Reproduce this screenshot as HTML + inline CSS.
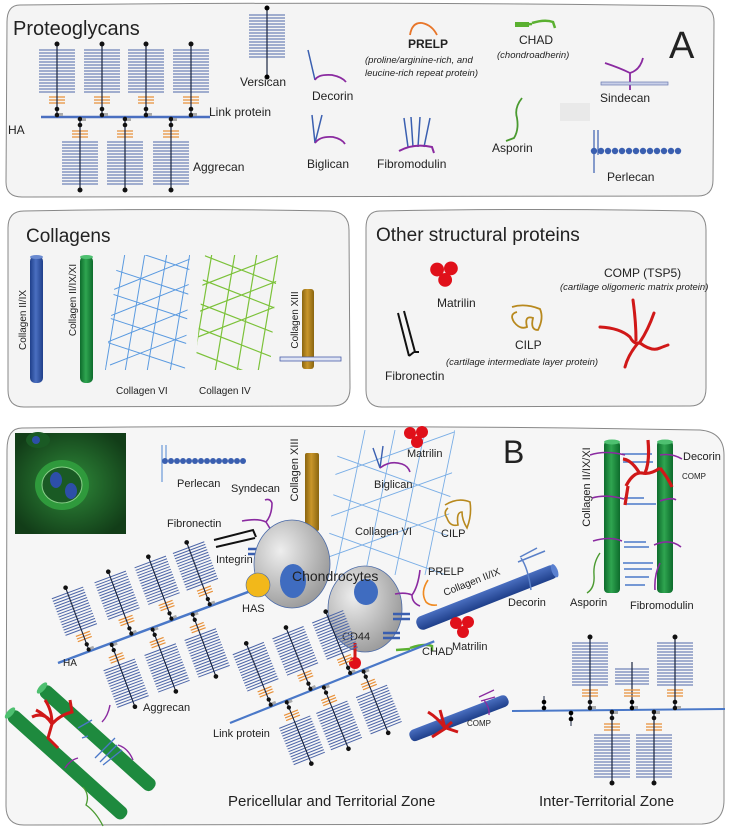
<!DOCTYPE html>
<html><head><meta charset="utf-8"><style>
html,body{margin:0;padding:0;background:#fff}
svg{display:block}
text{font-family:"Liberation Sans",sans-serif;fill:#222}
.i{font-style:italic}
</style></head><body>
<svg width="730" height="829" viewBox="0 0 730 829" xmlns="http://www.w3.org/2000/svg">
<defs>
<linearGradient id="gb" x1="0" x2="1"><stop offset="0" stop-color="#1f3f8a"/><stop offset=".45" stop-color="#4a6fc0"/><stop offset="1" stop-color="#1f3f8a"/></linearGradient>
<linearGradient id="gg" x1="0" x2="1"><stop offset="0" stop-color="#0d6b2c"/><stop offset=".45" stop-color="#2fa550"/><stop offset="1" stop-color="#0d6b2c"/></linearGradient>
<linearGradient id="gy" x1="0" x2="1"><stop offset="0" stop-color="#8a6510"/><stop offset=".45" stop-color="#c9962a"/><stop offset="1" stop-color="#8a6510"/></linearGradient>
<linearGradient id="gbv" x1="0" y1="0" x2="0" y2="1"><stop offset="0" stop-color="#4a6fc0"/><stop offset="1" stop-color="#1f3f8a"/></linearGradient>
<radialGradient id="cell" cx=".35" cy=".35" r=".8"><stop offset="0" stop-color="#eee"/><stop offset="1" stop-color="#8e8e8e"/></radialGradient>
<radialGradient id="ph" cx=".5" cy=".5" r=".6"><stop offset="0" stop-color="#2f8a3a"/><stop offset="1" stop-color="#123d18"/></radialGradient>
<g id="m">
<path d="M-18 -67h36M-18 -64h36M-18 -61h36M-18 -58h36M-18 -55h36M-18 -52h36M-18 -49h36M-18 -46h36M-18 -43h36M-18 -40h36M-18 -37h36M-18 -34h36M-18 -31h36M-18 -28h36M-18 -25h36" stroke="#4d66a8" stroke-width="1.1"/>
<path d="M-8 -20h16M-8 -17h16M-8 -14h16" stroke="#e8913a" stroke-width="1.3"/>
<line x1="0" y1="0" x2="0" y2="-73" stroke="#1a2540" stroke-width="1.2"/>
<circle cx="0" cy="-73" r="2.5" fill="#111"/><circle cx="0" cy="-8" r="2.3" fill="#111"/><circle cx="0" cy="-2" r="2.3" fill="#111"/>
<rect x="2" y="-4" width="4" height="3" fill="#aaa"/>
</g>
<g id="pg">
<path d="M-18 -67h36M-18 -64h36M-18 -61h36M-18 -58h36M-18 -55h36M-18 -52h36M-18 -49h36M-18 -46h36M-18 -43h36M-18 -40h36M-18 -37h36M-18 -34h36M-18 -31h36M-18 -28h36M-18 -25h36" stroke="#4d66a8" stroke-width="1.1"/>
</g>
<g id="mat"><circle cx="-6" cy="-3" r="6" fill="#e0101a"/><circle cx="6" cy="-4" r="6" fill="#e0101a"/><circle cx="1" cy="6" r="6" fill="#e0101a"/></g>
<clipPath id="c6"><polygon points="118,255 190,255 185,370 105,370"/></clipPath>
<clipPath id="c4"><polygon points="205,255 278,255 270,370 195,370"/></clipPath>
<clipPath id="cb6"><polygon points="340,430 455,430 445,575 325,575"/></clipPath>
</defs>

<!-- Panel A -->
<path d="M20 5 Q360 1 700 6 Q714 7 714 22 L713 180 Q713 196 698 196 L22 197 Q6 197 6 182 L7 22 Q7 5 20 5Z" fill="#f4f4f4" stroke="#888" stroke-width="1"/>
<text x="13" y="35" font-size="20">Proteoglycans</text>
<line x1="41" y1="117" x2="210" y2="117" stroke="#4a6fc0" stroke-width="2.5"/>
<use href="#m" transform="translate(57,117)"/><use href="#m" transform="translate(102,117)"/><use href="#m" transform="translate(146,117)"/><use href="#m" transform="translate(191,117)"/>
<use href="#m" transform="translate(80,117) scale(1,-1)"/><use href="#m" transform="translate(125,117) scale(1,-1)"/><use href="#m" transform="translate(171,117) scale(1,-1)"/>
<text x="209" y="116" font-size="12">Link protein</text>
<text x="8" y="134" font-size="12">HA</text>
<text x="193" y="171" font-size="12">Aggrecan</text>
<use href="#pg" transform="translate(267,82)"/>
<line x1="267" y1="8" x2="267" y2="78" stroke="#1a2540" stroke-width="1.2"/><circle cx="267" cy="8" r="2.5"/><circle cx="267" cy="77" r="2.5"/>
<text x="240" y="86" font-size="12">Versican</text>
<path d="M308 50 L315 80" stroke="#3a5fb0" stroke-width="1.5" fill="none"/><path d="M315 80 Q318 74 332 75 Q342 77 346 82" stroke="#8a2aa0" stroke-width="1.8" fill="none"/>
<text x="312" y="100" font-size="12">Decorin</text>
<path d="M312 115 L315 143 L322 115" stroke="#3a5fb0" stroke-width="1.5" fill="none"/><path d="M315 143 Q320 136 333 137 Q342 139 345 144" stroke="#8a2aa0" stroke-width="1.8" fill="none"/>
<text x="307" y="168" font-size="12">Biglican</text>
<path d="M404 118 L408 147 M411 117 L413 147 M420 117 L418 147 M430 118 L424 147" stroke="#3a5fb0" stroke-width="1.5"/>
<path d="M399 151 Q414 143 432 147 L434 153" stroke="#8a2aa0" stroke-width="2" fill="none"/>
<text x="377" y="168" font-size="12">Fibromodulin</text>
<path d="M410 35 Q412 22 422 23 Q432 25 437 35" stroke="#e8762a" stroke-width="1.8" fill="none"/>
<text x="408" y="48" font-size="12" font-weight="bold" fill="#333">PRELP</text>
<text x="365" y="63" font-size="9.5" class="i">(proline/arginine-rich, and</text>
<text x="365" y="76" font-size="9.5" class="i">leucine-rich repeat protein)</text>
<path d="M515 25 L532 24 M532 23 Q545 19 553 22 L555 28" stroke="#5ab030" stroke-width="2.5" fill="none"/><rect x="515" y="22" width="14" height="5" fill="#5ab030"/>
<text x="519" y="44" font-size="12">CHAD</text>
<text x="497" y="58" font-size="9.5" class="i">(chondroadherin)</text>
<text x="669" y="58" font-size="38">A</text>
<path d="M605 63 Q620 68 630 73 Q640 70 643 58 M630 73 L630 90" stroke="#8a2aa0" stroke-width="1.8" fill="none"/>
<rect x="601" y="82" width="67" height="3" fill="#c8cfe8" stroke="#6a7ab0" stroke-width=".7"/>
<text x="600" y="102" font-size="12">Sindecan</text>
<path d="M522 98 Q514 108 517 118 Q519 130 514 138 L506 141" stroke="#4a9a30" stroke-width="1.8" fill="none"/>
<text x="492" y="152" font-size="12">Asporin</text>
<rect x="560" y="103" width="30" height="18" fill="#ddd" opacity=".5"/>
<path d="M594 130 V173 M598 130 V155" stroke="#3a5fb0" stroke-width="1.2"/>
<g fill="#3a5fb0"><circle cx="594" cy="151" r="3.2"/><circle cx="601" cy="151" r="3.2"/><circle cx="608" cy="151" r="3.2"/><circle cx="615" cy="151" r="3.2"/><circle cx="622" cy="151" r="3.2"/><circle cx="629" cy="151" r="3.2"/><circle cx="636" cy="151" r="3.2"/><circle cx="643" cy="151" r="3.2"/><circle cx="650" cy="151" r="3.2"/><circle cx="657" cy="151" r="3.2"/><circle cx="664" cy="151" r="3.2"/><circle cx="671" cy="151" r="3.2"/><circle cx="678" cy="151" r="3.2"/></g>
<text x="607" y="181" font-size="12">Perlecan</text>

<!-- Collagens -->
<path d="M24 211 Q180 208 330 211 Q349 212 349 230 L350 388 Q350 406 332 406 L24 407 Q8 407 8 390 L8 228 Q8 211 24 211Z" fill="#f4f4f4" stroke="#888"/>
<text x="26" y="242" font-size="19">Collagens</text>
<rect x="30" y="256" width="13" height="127" rx="5" fill="url(#gb)"/><ellipse cx="36.5" cy="257" rx="6.5" ry="2" fill="#6a8ad0"/>
<rect x="80" y="256" width="13" height="127" rx="5" fill="url(#gg)"/><ellipse cx="86.5" cy="257" rx="6.5" ry="2" fill="#4ec070"/>
<text transform="translate(26,320) rotate(-90)" font-size="10" text-anchor="middle">Collagen II/IX</text>
<text transform="translate(76,300) rotate(-90)" font-size="10" text-anchor="middle">Collagen II/IX/XI</text>
<g clip-path="url(#c6)" stroke="#5a9ae0" stroke-width="1"><path d="M145 253 L125 372 M167 253 L147 372 M190 253 L170 372 M125 253 L105 372 M100 265 L200 298 M100 290 L200 323 M100 315 L200 348 M100 340 L200 373 M100 240 L200 273 M110 365 L200 330 M100 345 L200 305 M100 320 L200 280 M100 295 L200 255"/></g>
<text x="116" y="394" font-size="10">Collagen VI</text>
<g clip-path="url(#c4)" stroke="#7cc23a" stroke-width="1.2"><path d="M235 253 L215 372 M257 253 L237 372 M278 253 L258 372 M212 253 L192 372 M190 250 L280 285 M190 275 L280 310 M190 300 L280 335 M190 325 L280 360 M190 350 L280 385 M190 340 L280 305 M190 315 L280 280 M190 290 L280 255"/></g>
<text x="199" y="394" font-size="10">Collagen IV</text>
<rect x="302" y="289" width="12" height="80" rx="3" fill="url(#gy)"/>
<rect x="280" y="357" width="61" height="4" fill="#dfe4f4" stroke="#4a5fa8" stroke-width=".8"/>
<text transform="translate(298,320) rotate(-90)" font-size="10" text-anchor="middle">Collagen XIII</text>

<!-- Other structural -->
<path d="M380 211 Q540 208 690 211 Q706 212 706 230 L706 388 Q706 406 690 406 L382 407 Q366 407 366 390 L366 228 Q366 211 380 211Z" fill="#f4f4f4" stroke="#888"/>
<text x="376" y="241" font-size="19">Other structural proteins</text>
<use href="#mat" transform="translate(444,273) scale(1.15)"/>
<text x="437" y="307" font-size="12">Matrilin</text>
<path d="M398 313 L409 356 M404 311 L415 352 L419 352 M409 356 L414 352" stroke="#111" stroke-width="2" fill="none"/>
<text x="385" y="380" font-size="12">Fibronectin</text>
<path d="M512 307 Q525 303 540 309 Q544 318 538 330 Q530 330 533 318 Q524 315 527 327 Q520 330 514 322 Q509 314 517 312" stroke="#b8891e" stroke-width="1.8" fill="none"/>
<text x="515" y="349" font-size="12">CILP</text>
<text x="446" y="365" font-size="9.5" class="i">(cartilage intermediate layer protein)</text>
<text x="604" y="277" font-size="12">COMP (TSP5)</text>
<text x="560" y="290" font-size="9.5" class="i">(cartilage oligomeric matrix protein)</text>
<path d="M600 327 Q620 328 630 337 Q634 345 640 343 M636 340 Q636 322 633 300 M640 342 Q648 330 654 313 M638 343 Q628 355 625 367 M640 343 Q652 352 660 348 Q665 346 668 345" stroke="#d01818" stroke-width="3" fill="none" stroke-linecap="round"/>

<!-- Panel B -->
<path d="M22 428 Q360 424 700 430 Q724 432 724 455 L724 800 Q724 823 702 824 L24 825 Q6 825 6 806 L7 450 Q7 428 22 428Z" fill="#f6f6f6" stroke="#888"/>
<rect x="15" y="433" width="111" height="101" fill="url(#ph)"/>
<ellipse cx="62" cy="485" rx="27" ry="25" fill="#2f9a3c"/><ellipse cx="62" cy="485" rx="20" ry="18" fill="#1a5a24" stroke="#8ad08a" stroke-width="1"/>
<ellipse cx="56" cy="480" rx="6" ry="8" fill="#2d4fa8"/><ellipse cx="71" cy="491" rx="6" ry="8" fill="#2d4fa8"/>
<ellipse cx="38" cy="440" rx="12" ry="8" fill="#1a5a24"/><ellipse cx="36" cy="440" rx="4" ry="4" fill="#2d4fa8"/>
<text x="503" y="463" font-size="32">B</text>
<path d="M162 445 V482 M166 445 V462" stroke="#6a9ad8" stroke-width="1.2"/>
<g fill="#3a5fb0"><circle cx="165" cy="461" r="3"/><circle cx="171" cy="461" r="3"/><circle cx="177" cy="461" r="3"/><circle cx="183" cy="461" r="3"/><circle cx="189" cy="461" r="3"/><circle cx="195" cy="461" r="3"/><circle cx="201" cy="461" r="3"/><circle cx="207" cy="461" r="3"/><circle cx="213" cy="461" r="3"/><circle cx="219" cy="461" r="3"/><circle cx="225" cy="461" r="3"/><circle cx="231" cy="461" r="3"/><circle cx="237" cy="461" r="3"/><circle cx="243" cy="461" r="3"/></g>
<text x="177" y="487" font-size="11">Perlecan</text>
<text x="231" y="492" font-size="11">Syndecan</text>
<path d="M242 521 Q258 518 266 522 Q272 515 272 503 Q270 498 265 500 M266 522 L274 535" stroke="#8a2aa0" stroke-width="1.6" fill="none"/>
<rect x="305" y="453" width="14" height="78" rx="2" fill="url(#gy)"/>
<text transform="translate(298,470) rotate(-90)" font-size="11" text-anchor="middle">Collagen XIII</text>
<text x="167" y="527" font-size="11">Fibronectin</text>
<path d="M214 540 L253 530 L256 537 M216 547 L255 538" stroke="#111" stroke-width="2" fill="none"/>
<text x="216" y="563" font-size="11">Integrin</text>
<path d="M248 549 h17 M248 554 h17" stroke="#3a5fb0" stroke-width="2.5"/>
<g clip-path="url(#cb6)" stroke="#7aaee6" stroke-width=".9"><path d="M365 430 L335 575 M395 430 L365 575 M425 430 L395 575 M455 430 L425 575 M320 450 L460 500 M320 490 L460 540 M320 530 L460 580 M320 480 L460 430 M320 520 L460 470 M320 560 L460 510"/></g>
<path d="M373 448 L380 468 L383 446" stroke="#3a5fb0" stroke-width="1.4" fill="none"/><path d="M380 468 Q390 460 402 464 Q408 466 410 472" stroke="#8a2aa0" stroke-width="1.6" fill="none"/>
<use href="#mat" transform="translate(416,436)"/>
<text x="407" y="457" font-size="11">Matrilin</text>
<text x="374" y="488" font-size="11">Biglican</text>
<text x="355" y="535" font-size="11">Collagen VI</text>
<path d="M445 505 Q458 497 470 502 Q472 515 467 528 Q462 520 462 512 Q456 512 458 525 Q450 527 447 518 Q443 512 448 508" stroke="#b8891e" stroke-width="1.6" fill="none"/>
<text x="441" y="537" font-size="11">CILP</text>
<g transform="translate(58,663) rotate(-20.5)">
<line x1="0" y1="0" x2="208" y2="0" stroke="#4a78c8" stroke-width="2.5"/>
<g transform="scale(.93)">
<use href="#m" transform="translate(36,0)"/><use href="#m" transform="translate(85,0)"/><use href="#m" transform="translate(131,0)"/><use href="#m" transform="translate(175,0)"/>
<use href="#m" transform="translate(61,0) scale(1,-1)"/><use href="#m" transform="translate(108,0) scale(1,-1)"/><use href="#m" transform="translate(154,0) scale(1,-1)"/>
</g></g>
<text x="63" y="666" font-size="10">HA</text>
<text x="143" y="711" font-size="11">Aggrecan</text>
<ellipse cx="292" cy="564" rx="38" ry="44" fill="url(#cell)" stroke="#4a6aa8" stroke-width=".8"/>
<ellipse cx="293" cy="581" rx="13" ry="17" fill="#3f6cc0"/>
<circle cx="258" cy="585" r="12" fill="#f2b81a" stroke="#4a6aa8" stroke-width=".6"/>
<text x="242" y="612" font-size="11">HAS</text>
<ellipse cx="365" cy="609" rx="37" ry="43" fill="url(#cell)" stroke="#4a6aa8" stroke-width=".8"/>
<ellipse cx="366" cy="592" rx="12" ry="13" fill="#3f6cc0"/>
<text x="292" y="581" font-size="14">Chondrocytes</text>
<text x="342" y="640" font-size="11">CD44</text>
<line x1="355" y1="643" x2="355" y2="660" stroke="#d01818" stroke-width="3"/><circle cx="355" cy="663" r="6" fill="#e0101a"/>
<path d="M393 614 h17 M393 619 h17 M383 633 h17 M383 638 h17" stroke="#3a5fb0" stroke-width="2.5"/>
<g transform="translate(417,625) rotate(-21.5)"><rect x="0" y="-7" width="150" height="14" rx="6" fill="url(#gbv)"/><ellipse cx="148" cy="0" rx="3" ry="7" fill="#5a80d0"/></g>
<text transform="translate(445,596) rotate(-21.5)" font-size="10">Collagen II/IX</text>
<path d="M520 557 L537 548 M518 562 L545 551 M521 558 Q528 568 531 590" stroke="#5a80c8" stroke-width="1.5" fill="none"/>
<text x="508" y="606" font-size="11">Decorin</text>
<path d="M395 594 Q405 592 412 595 Q418 587 420 570 M412 595 Q412 603 420 606" stroke="#8a2aa0" stroke-width="1.6" fill="none"/>
<path d="M428 580 Q420 592 426 602 Q430 606 437 605" stroke="#f08a20" stroke-width="1.6" fill="none"/>
<text x="428" y="575" font-size="11">PRELP</text>
<use href="#mat" transform="translate(462,626)"/>
<text x="452" y="650" font-size="11">Matrilin</text>
<path d="M396 650 L410 649 M410 648 Q425 643 432 646 L432 651" stroke="#5ab030" stroke-width="2.5" fill="none"/>
<text x="422" y="655" font-size="11">CHAD</text>
<g transform="translate(230,723) rotate(-21.8)">
<line x1="0" y1="0" x2="220" y2="0" stroke="#4a78c8" stroke-width="2.2"/>
<g transform="scale(.93)">
<use href="#m" transform="translate(48,0)"/><use href="#m" transform="translate(94,0)"/><use href="#m" transform="translate(140,0)"/>
<use href="#m" transform="translate(65,0) scale(1,-1)"/><use href="#m" transform="translate(108,0) scale(1,-1)"/><use href="#m" transform="translate(154,0) scale(1,-1)"/>
</g></g>
<text x="213" y="737" font-size="11">Link protein</text>
<g transform="translate(410,737) rotate(-21)"><rect x="0" y="-6" width="105" height="12" rx="5" fill="url(#gbv)"/></g>
<path d="M428 712 Q438 718 445 728 M440 710 L445 728 L452 722 M432 737 L446 728 L458 732" stroke="#d01818" stroke-width="3" fill="none"/>
<path d="M479 697 L494 690 M481 701 L495 697 M484 700 Q490 708 489 715" stroke="#8a2aa0" stroke-width="1.3" fill="none"/>
<text x="467" y="726" font-size="8">COMP</text>
<rect x="604" y="441" width="16" height="152" rx="4" fill="url(#gg)"/><ellipse cx="612" cy="442" rx="8" ry="2.5" fill="#4ec070"/>
<rect x="657" y="441" width="16" height="152" rx="4" fill="url(#gg)"/><ellipse cx="665" cy="442" rx="8" ry="2.5" fill="#4ec070"/>
<text transform="translate(590,487) rotate(-90)" font-size="11" text-anchor="middle">Collagen II/IX/XI</text>
<path d="M622 454 h30 M623 462 h30 M624 498 h20 M624 504 h32 M624 542 h22 M624 547 h25 M623 563 h30 M624 569 h28 M625 577 h24 M625 585 h20" stroke="#4a78c8" stroke-width="1.4"/>
<path d="M590 455 Q605 450 625 455 M660 455 Q672 453 682 459 M592 498 Q606 494 624 499 M660 501 Q672 497 676 500 M593 541 Q610 536 622 541 M654 545 Q670 538 681 547 M660 563 Q654 575 655 590" stroke="#8a2aa0" stroke-width="1.6" fill="none"/>
<path d="M626 486 Q633 472 642 473 Q650 475 660 468 M645 473 Q650 462 648 440 M640 474 Q632 460 623 459 M660 468 Q668 478 672 487 M628 486 L625 505" stroke="#d01818" stroke-width="3.2" fill="none"/>
<path d="M600 553 Q593 563 594 575 Q595 588 587 593" stroke="#4a9a30" stroke-width="1.4" fill="none"/>
<text x="683" y="460" font-size="11">Decorin</text>
<text x="682" y="479" font-size="8">COMP</text>
<text x="570" y="606" font-size="11">Asporin</text>
<text x="630" y="609" font-size="11">Fibromodulin</text>
<line x1="512" y1="711" x2="725" y2="709" stroke="#4a78c8" stroke-width="2"/>
<use href="#m" transform="translate(590,710)"/><use href="#m" transform="translate(675,710)"/>
<g transform="translate(632,710)"><path d="M-17 -41h34M-17 -38h34M-17 -35h34M-17 -32h34M-17 -29h34M-17 -26h34" stroke="#4d66a8" stroke-width="1.1"/><line x1="0" y1="0" x2="0" y2="-48" stroke="#1a2540" stroke-width="1.2"/><path d="M-8 -20h16M-8 -17h16M-8 -14h16" stroke="#e8913a" stroke-width="1.3"/><circle cx="0" cy="-8" r="2.3"/><circle cx="0" cy="-2" r="2.3"/><rect x="2" y="-4" width="4" height="3" fill="#aaa"/></g>
<use href="#m" transform="translate(612,710) scale(1,-1)"/><use href="#m" transform="translate(654,710) scale(1,-1)"/>
<g transform="translate(544,710)"><line x1="0" y1="0" x2="0" y2="-14" stroke="#1a2540"/><circle cx="0" cy="-8" r="2.3"/><circle cx="0" cy="-2" r="2.3"/></g>
<g transform="translate(571,711)"><line x1="0" y1="0" x2="0" y2="15" stroke="#1a2540"/><circle cx="0" cy="8" r="2.3"/><circle cx="0" cy="2" r="2.3"/></g>
<text x="539" y="806" font-size="15">Inter-Territorial Zone</text>
<text x="228" y="806" font-size="15">Pericellular and Territorial Zone</text>
<g transform="translate(42,688) rotate(42)"><rect x="0" y="-7" width="150" height="14" rx="6" fill="#1e8a3e"/><ellipse cx="0" cy="0" rx="3" ry="7" fill="#4ec070"/></g>
<g transform="translate(10,713) rotate(42)"><rect x="0" y="-7" width="155" height="14" rx="6" fill="#1e8a3e"/><ellipse cx="0" cy="0" rx="3" ry="7" fill="#4ec070"/></g>
<path d="M32 717 Q42 712 50 720 M36 710 Q46 715 52 724 M52 724 L48 738 L58 748 M52 724 Q60 715 72 712 L70 700 M45 700 Q52 710 52 724" stroke="#d01818" stroke-width="3" fill="none"/>
<path d="M78 728 L92 720 M82 738 L88 736 M95 758 L115 738 M100 762 L117 745 M103 765 L122 750" stroke="#4a78c8" stroke-width="1.3" fill="none"/>
<path d="M118 745 Q128 748 133 760 M65 768 Q70 760 78 758 M102 722 Q108 716 110 705" stroke="#8a2aa0" stroke-width="1.4" fill="none"/>
<path d="M83 787 Q90 795 86 805 Q96 812 103 826" stroke="#4a9a30" stroke-width="1.3" fill="none"/>
</svg>
</body></html>
